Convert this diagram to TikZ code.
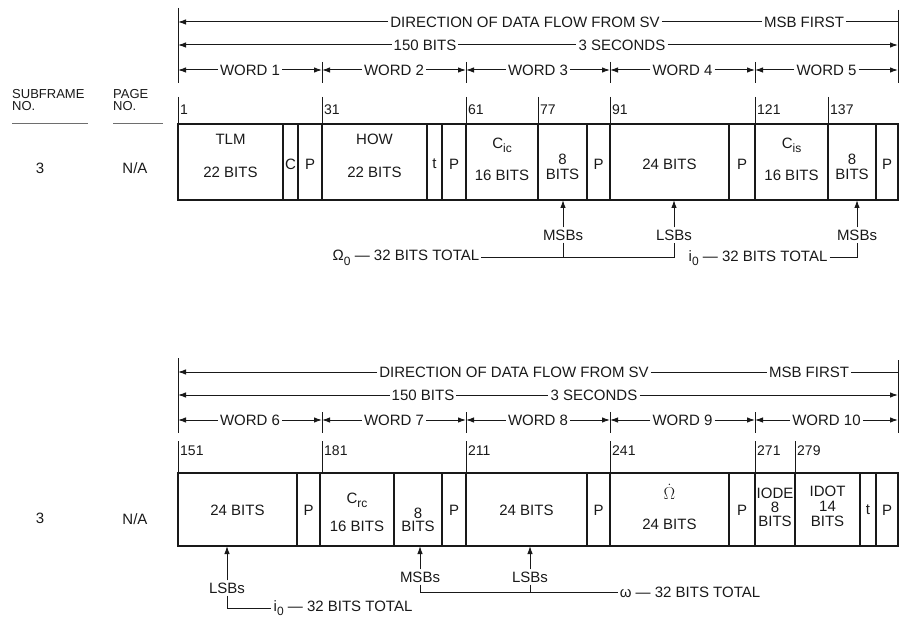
\documentclass[tikz,border=0pt]{standalone}
\usepackage{fontspec}
\setmainfont{Liberation Sans}
\usetikzlibrary{arrows.meta,calc}
\definecolor{ink}{RGB}{25,25,25}
\definecolor{rulegray}{RGB}{110,110,110}
\newcommand{\xL}{178}
\newcommand{\xR}{898}
\newcommand{\lowsub}[1]{\raisebox{-0.55ex}{\fontsize{12}{12}\selectfont #1}}
\tikzset{
  fline/.style  ={draw=ink,line width=1pt},
  larr/.style   ={fline,-{Latex[length=8pt,width=5.5pt]}},
  hlab/.style   ={inner sep=2pt,font=\fontsize{15}{15}\selectfont,text=ink},
  fldbox/.style ={draw=ink,line width=1.1pt,inner sep=0pt,outer sep=0pt},
  fsp/.style    ={inner sep=0pt,align=center,text=ink,font=\fontsize{15}{#1}\selectfont},
  bitlab/.style ={anchor=west,inner sep=1pt,xshift=1pt,font=\fontsize{14}{14}\selectfont,text=ink},
  annot/.style  ={inner sep=2pt,font=\fontsize{15}{15}\selectfont,text=ink},
  sflab/.style  ={inner sep=0pt,align=left,font=\fontsize{13}{12.5}\selectfont,text=ink},
  sfrule/.style ={draw=rulegray,line width=0.6pt},
}
\newcommand{\flowhead}[7]{%
  \coordinate (#1tl) at (\xL,{#2-14});
  \coordinate (#1bl) at (\xL,{#2+61});
  \coordinate (#1tr) at (\xR,{#2-12});
  \coordinate (#1br) at (\xR,{#2+61});
  \draw[fline] (#1tl) -- (#1bl);
  \draw[fline] (#1tr) -- (#1br);
  \coordinate (#1al) at (\xL,#2);
  \coordinate (#1ar) at (\xR,#2);
  \node[hlab] (#1dir) at (#4,#2) {DIRECTION OF DATA FLOW FROM SV};
  \node[hlab] (#1msb) at (#5,#2) {MSB FIRST};
  \draw[larr] (#1dir) -- (#1al);
  \draw[fline] (#1dir) -- (#1msb);
  \draw[fline] (#1msb) -- (#1ar);
  \coordinate (#1bl2) at (\xL,{#2+23});
  \coordinate (#1br2) at (\xR,{#2+23});
  \node[hlab] (#1bits) at (#6,{#2+23}) {150 BITS};
  \node[hlab] (#1sec) at (#7,{#2+23}) {3 SECONDS};
  \draw[larr] (#1bits) -- (#1bl2);
  \draw[fline] (#1bits) -- (#1sec);
  \draw[larr] (#1sec) -- (#1br2);
  \foreach \i/\xa/\xb in {0/178/322,1/322/466,2/466/610,3/610/755,4/755/898}{
    \pgfmathtruncatemacro{\wn}{#3+\i}
    \coordinate (#1wa\i) at (\xa,{#2+48});
    \coordinate (#1wb\i) at (\xb,{#2+48});
    \node[hlab] (#1w\i) at ({(\xa+\xb)/2},{#2+48}) {WORD \wn};
    \draw[larr] (#1w\i) -- (#1wa\i);
    \draw[larr] (#1w\i) -- (#1wb\i);
    \ifnum\i>0 \draw[fline] (\xa,{#2+40}) -- (\xa,{#2+61});\fi
  }
}
\newcommand{\bitno}[6]{%
  \draw[fline] (#2,#3) -- (#2,#4);
  \node[bitlab] (#1) at (#2,#5) {#6};
}
\newcommand{\fld}[8]{%
  \pgfmathsetmacro{\fldw}{#3-#2}%
  \pgfmathsetmacro{\fldh}{#5-#4}%
  \node[fldbox,minimum width=\fldw pt,minimum height=\fldh pt] (#1) at ({(#2+#3)/2},{(#4+#5)/2}) {};
  \node[#7] (#1t) at ({(#2+#3)/2},#6) {#8};
}

\begin{document}
\begin{tikzpicture}[x=1pt,y=-1pt]
  \useasboundingbox (0,0) rectangle (903,631);
  % subframe 3, words 1 to 5
  \flowhead{ha}{22}{1}{525}{804}{425}{622}
  \node[sflab,anchor=west] (sfa) at (12,100) {SUBFRAME\\NO.};
  \node[sflab,anchor=west] (pga) at (113,100) {PAGE\\NO.};
  \draw[sfrule] (12,123) -- (88,123);
  \draw[sfrule] (113,123) -- (163,123);
  \node[hlab] (sfv) at (40,168) {3};
  \node[hlab] (pgv) at (135,168) {N/A};
  \foreach \nm/\x/\b in {ba/178/1,bb/322/31,bc/466/61,bd/538/77,be/610/91,bf/755/121,bg/828/137}
    {\bitno{\nm}{\x}{97}{124}{110}{\b}}
  \fld{tlm}{178}{283}{124}{200}{156}{fsp=33}{TLM\\22 BITS}
  \fld{cbit}{283}{298}{124}{200}{164}{fsp=18}{C}
  \fld{pa}{298}{322}{124}{200}{164}{fsp=18}{P}
  \fld{how}{322}{427}{124}{200}{156}{fsp=33}{HOW\\22 BITS}
  \fld{tbit}{427}{442}{124}{200}{164}{fsp=18}{t}
  \fld{pb}{442}{466}{124}{200}{164}{fsp=18}{P}
  \fld{cic}{466}{538}{124}{200}{159}{fsp=32}{C\lowsub{ic}\\16 BITS}
  \fld{bta}{538}{587}{124}{200}{167}{fsp=14.5}{8\\BITS}
  \fld{pc}{587}{610}{124}{200}{164}{fsp=18}{P}
  \fld{wfour}{610}{729}{124}{200}{164}{fsp=18}{24 BITS}
  \fld{pd}{729}{755}{124}{200}{164}{fsp=18}{P}
  \fld{cis}{755}{828}{124}{200}{159}{fsp=32}{C\lowsub{is}\\16 BITS}
  \fld{btb}{828}{876}{124}{200}{167}{fsp=14.5}{8\\BITS}
  \fld{pe}{876}{898}{124}{200}{164}{fsp=18}{P}
  \node[annot] (msbA) at (563,235) {MSBs};
  \node[annot] (lsbA) at (674,235) {LSBs};
  \node[annot] (msbB) at (857,235) {MSBs};
  \node[annot] (omz) at (406,258) {Ω\lowsub{0} — 32 BITS TOTAL};
  \node[annot] (izero) at (758,258) {i\lowsub{0} — 32 BITS TOTAL};
  \draw[larr] (msbA) -- (msbA |- bta.south);
  \draw[larr] (lsbA) -- (lsbA |- wfour.south);
  \draw[larr] (msbB) -- (msbB |- btb.south);
  \draw[fline] (msbA.south) -- (msbA.south |- omz);
  \draw[fline] (omz) -- (lsbA.south |- omz) -- (lsbA.south);
  \draw[fline] (izero) -- (msbB.south |- izero) -- (msbB.south);

  % subframe 3, words 6 to 10
  \flowhead{hb}{372}{6}{514}{809}{423}{594}
  \node[hlab] (sfvb) at (40,518) {3};
  \node[hlab] (pgvb) at (135,519) {N/A};
  \foreach \nm/\x/\b in {bh/178/151,bi/322/181,bj/466/211,bk/610/241,bl/755/271,bm/795/279}
    {\bitno{\nm}{\x}{441}{473}{451}{\b}}
  \fld{wsix}{178}{297}{473}{546}{510}{fsp=18}{24 BITS}
  \fld{pf}{297}{320}{473}{546}{510}{fsp=18}{P}
  \fld{crc}{320}{394}{473}{546}{512}{fsp=28}{C\lowsub{rc}\\16 BITS}
  \fld{btc}{394}{442}{473}{546}{520}{fsp=13.5}{8\\BITS}
  \fld{pg}{442}{466}{473}{546}{510}{fsp=18}{P}
  \fld{weight}{466}{587}{473}{546}{510}{fsp=18}{24 BITS}
  \fld{ph}{587}{610}{473}{546}{510}{fsp=18}{P}
  \fld{odot}{610}{729}{473}{546}{507}{fsp=30}{{\fontsize{18}{18}\selectfont$\dot{\Omega}$}\\24 BITS}
  \fld{pi}{729}{755}{473}{546}{510}{fsp=18}{P}
  \fld{iode}{755}{795}{473}{546}{507}{fsp=14}{IODE\\8\\BITS}
  \fld{idot}{795}{860}{473}{546}{506}{fsp=15}{IDOT\\14\\BITS}
  \fld{tc}{860}{876}{473}{546}{510}{fsp=18}{t}
  \fld{pj}{876}{898}{473}{546}{510}{fsp=18}{P}
  \node[annot] (lsbC) at (227,588) {LSBs};
  \node[annot] (msbC) at (420,577) {MSBs};
  \node[annot] (lsbD) at (530,577) {LSBs};
  \node[annot] (izerob) at (343,608) {i\lowsub{0} — 32 BITS TOTAL};
  \node[annot] (omg) at (690,592) {ω — 32 BITS TOTAL};
  \draw[larr] (lsbC) -- (lsbC |- wsix.south);
  \draw[larr] (msbC) -- (msbC |- btc.south);
  \draw[larr] (lsbD) -- (lsbD |- weight.south);
  \draw[fline] (lsbC.south) -- (lsbC.south |- izerob) -- (izerob);
  \draw[fline] (msbC.south) -- (msbC.south |- omg) -- (omg);
  \draw[fline] (lsbD.south) -- (lsbD.south |- omg);
\end{tikzpicture}
\end{document}
